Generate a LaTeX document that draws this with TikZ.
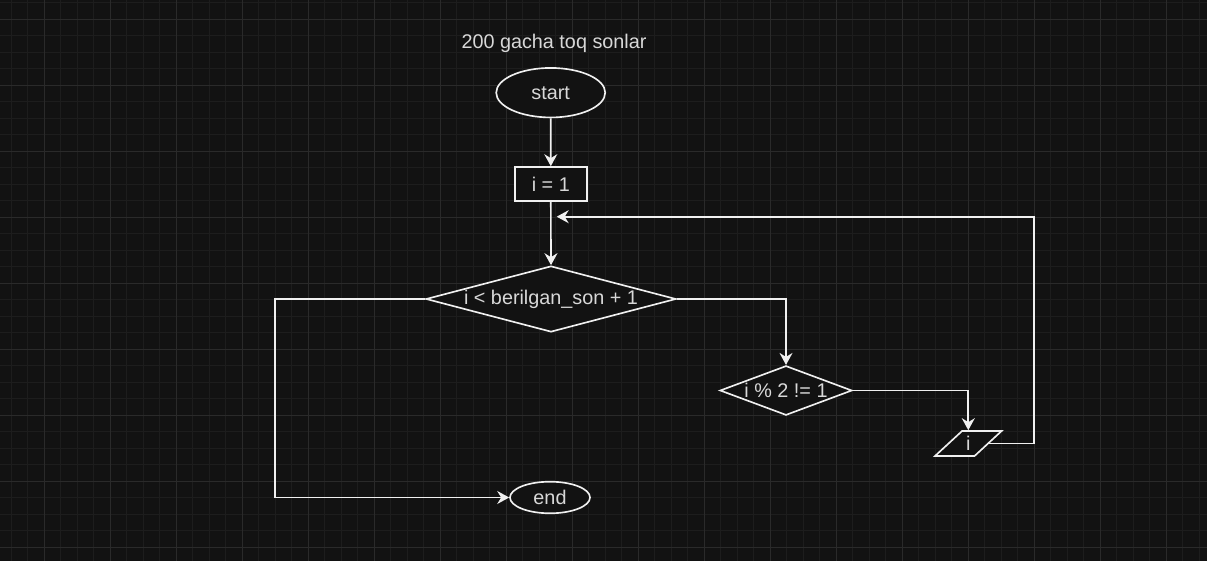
\documentclass[tikz,border=0pt]{standalone}
\usepackage{fontspec}
\setmainfont{Liberation Sans}
\usetikzlibrary{shapes.geometric,arrows.meta}
\definecolor{bg}{HTML}{121212}
\definecolor{gridminor}{HTML}{1D1D1D}
\definecolor{gridmajor}{HTML}{2A2A2A}
\definecolor{ink}{HTML}{F0F0F0}
\definecolor{txt}{HTML}{D8D8D8}
\begin{document}
\begin{tikzpicture}[x=1pt,y=-1pt,
  base/.style={draw=ink, line width=1.65pt, fill=bg, text=txt, inner sep=0pt,
    font=\fontsize{19.8}{24}\selectfont},
  term/.style={base, ellipse},
  proc/.style={base, rectangle, minimum width=72pt, minimum height=34pt},
  dec/.style={base, diamond},
  io/.style={base, trapezium, trapezium left angle=56.3, trapezium right angle=123.7,
    trapezium stretches=true, minimum width=66.7pt, minimum height=25pt},
  lbl/.style={text=txt, inner sep=0pt, font=\fontsize{19.8}{24}\selectfont},
  conn/.style={draw=ink, line width=1.65pt, -{Stealth[length=12pt,width=13pt,inset=4pt]}},
  line/.style={draw=ink, line width=1.65pt}
]
\useasboundingbox (0,0) rectangle (1207,561);
\fill[bg] (0,0) rectangle (1207,561);
\foreach \i in {0,...,72} \draw[gridminor, line width=1pt] ({11+16.5*\i},0) -- ({11+16.5*\i},561);
\foreach \j in {0,...,33} \draw[gridminor, line width=1pt] (0,{2.8+16.5*\j}) -- (1207,{2.8+16.5*\j});
\foreach \i in {0,...,17} \draw[gridmajor, line width=1pt] ({44.3+66*\i},0) -- ({44.3+66*\i},561);
\foreach \j in {0,...,8} \draw[gridmajor, line width=1pt] (0,{19.3+66*\j}) -- (1207,{19.3+66*\j});

\node[lbl] (title) at (554,43) {200 gacha toq sonlar};
\node[term, minimum width=109pt, minimum height=49.5pt] (start) at (550.7,92.7) {start};
\node[proc] (init) at (550.8,184) {i = 1};
\node[dec, minimum width=250pt, minimum height=66pt] (cond) at (551,299) {\makebox[0pt]{i < berilgan\_son + 1}};
\node[dec, minimum width=132pt, minimum height=49.5pt] (cond2) at (786,390.5) {\makebox[0pt]{i \% 2 != 1}};
\node[io] (out) at (968.3,443.5) {i};
\node[term, minimum width=80pt, minimum height=31.6pt] (end) at (550,497.5) {end};

\coordinate (loopc) at (1034,216.7);
\coordinate (loopend) at (556.7,216.7);
\coordinate (leftc) at (275,497.5);

\draw[conn] (start.south) -- (init.north);
\draw[conn] (init.south) -- (cond.north);
\draw[conn] (cond.east) -| (cond2.north);
\draw[conn] (cond2.east) -| (out.north);
\draw[conn] (out.east) -| (loopc) -- (loopend);
\draw[conn] (cond.west) -| (leftc) -- (end.west);
\end{tikzpicture}
\end{document}
